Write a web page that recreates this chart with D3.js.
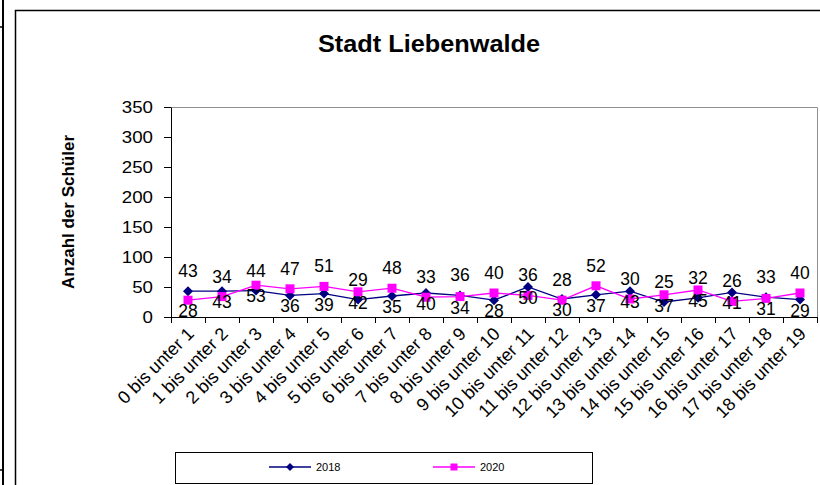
<!DOCTYPE html>
<html>
<head>
<meta charset="utf-8">
<script src="https://cdn.jsdelivr.net/npm/d3@7"></script>
<style>
  body { margin: 0; background: #fff; }
  svg { display: block; font-family: Arial, "Liberation Sans", sans-serif; }
</style>
</head>
<body>
<div id="container"></div>
<script>
//---------- DATA ----------//
const categories = [
    "0 bis unter 1", "1 bis unter 2", "2 bis unter 3", "3 bis unter 4", "4 bis unter 5",
    "5 bis unter 6", "6 bis unter 7", "7 bis unter 8", "8 bis unter 9", "9 bis unter 10",
    "10 bis unter 11", "11 bis unter 12", "12 bis unter 13", "13 bis unter 14", "14 bis unter 15",
    "15 bis unter 16", "16 bis unter 17", "17 bis unter 18", "18 bis unter 19"
];
const values2018 = [43, 43, 44, 36, 39, 29, 35, 40, 36, 28, 50, 30, 37, 43, 25, 32, 41, 33, 29];
const values2020 = [28, 34, 53, 47, 51, 42, 48, 33, 34, 40, 36, 28, 52, 30, 37, 45, 26, 31, 40];
// data labels as they appear in the chart (one row above the points, one below)
const labelsTop    = [43, 34, 44, 47, 51, 29, 48, 33, 36, 40, 36, 28, 52, 30, 25, 32, 26, 33, 40];
const labelsBottom = [28, 43, 53, 36, 39, 42, 35, 40, 34, 28, 50, 30, 37, 43, 37, 45, 41, 31, 29];
const yTicks = [0, 50, 100, 150, 200, 250, 300, 350];
const seriesNames = ["2018", "2020"];

//---------- SVG ----------//
const width = 820;
const height = 485;
const plotLeft = 171, plotRight = 817, plotTop = 107, plotBottom = 317;

const svg = d3.select("div#container")
    .append("svg")
    .attr("width", width)
    .attr("height", height);

// sheet border and chart frame
svg.append("line").attr("x1", 3).attr("x2", 3).attr("y1", 0).attr("y2", height)
    .attr("stroke", "#000").attr("stroke-width", 2);
svg.append("line").attr("x1", 0).attr("x2", 3).attr("y1", 27).attr("y2", 27)
    .attr("stroke", "#000").attr("stroke-width", 1.5);
svg.append("line").attr("x1", 0).attr("x2", 3).attr("y1", 470).attr("y2", 470)
    .attr("stroke", "#000").attr("stroke-width", 1.5);
svg.append("rect")
    .attr("x", 15.5).attr("y", 10.5)
    .attr("width", 830).attr("height", 500)
    .attr("fill", "none").attr("stroke", "#000").attr("stroke-width", 1.5);

//---------- SCALES ----------//
const xScale = d3.scaleBand().domain(categories).range([plotLeft, plotRight]);
const xEdges = d3.scaleLinear().domain([0, categories.length]).range([plotLeft, plotRight]);
const yScale = d3.scaleLinear().domain([0, 350]).range([plotBottom, plotTop]);
const cx = (d, i) => xScale(categories[i]) + xScale.bandwidth() / 2;

// plot area border (top / right)
svg.append("path")
    .attr("d", `M${plotLeft},${plotTop + 0.5}H${plotRight + 0.5}V${plotBottom}`)
    .attr("fill", "none").attr("stroke", "#909090").attr("stroke-width", 1);

//---------- TITLE ----------//
svg.append("text")
    .attr("x", 429).attr("y", 52)
    .attr("text-anchor", "middle")
    .attr("font-weight", "bold")
    .attr("font-size", 23.5)
    .attr("textLength", 222)
    .attr("lengthAdjust", "spacingAndGlyphs")
    .text("Stadt Liebenwalde");

svg.append("text")
    .attr("transform", `translate(74,${(plotTop + plotBottom) / 2}) rotate(-90)`)
    .attr("text-anchor", "middle")
    .attr("font-weight", "bold")
    .attr("font-size", 17)
    .text("Anzahl der Schüler");

//---------- AXES ----------//
const yAxis = svg.append("g")
    .attr("transform", `translate(${plotLeft},0)`)
    .call(d3.axisLeft(yScale).tickValues(yTicks).tickSize(7).tickSizeOuter(0).tickPadding(11));
yAxis.selectAll("text").attr("font-size", 17).attr("fill", "#000")
    .style("font-family", "Arial, 'Liberation Sans', sans-serif")
    .each(function () {
        this.setAttribute("textLength", this.getComputedTextLength() * 1.1);
        this.setAttribute("lengthAdjust", "spacingAndGlyphs");
    });
yAxis.selectAll("line, path").attr("stroke", "#000");

const xTicks = svg.append("g")
    .attr("transform", `translate(0,${plotBottom})`)
    .call(d3.axisBottom(xEdges).ticks(categories.length).tickFormat("").tickSize(6).tickSizeOuter(0));
xTicks.selectAll("line, path").attr("stroke", "#000");

svg.append("g")
    .selectAll("text")
    .data(categories)
    .join("text")
    .attr("transform", (d, i) => `translate(${cx(d, i) + 7},${plotBottom + 18}) rotate(-45)`)
    .attr("text-anchor", "end")
    .attr("font-size", 18)
    .text(d => d);

//---------- LINES ----------//
const line = d3.line().x(cx).y(d => yScale(d));

svg.append("path").datum(values2018)
    .attr("d", line).attr("fill", "none")
    .attr("stroke", "#000080").attr("stroke-width", 1.3);
svg.append("g").selectAll("path")
    .data(values2018)
    .join("path")
    .attr("transform", (d, i) => `translate(${cx(d, i)},${yScale(d)})`)
    .attr("d", "M0,-5L5,0L0,5L-5,0Z")
    .attr("fill", "#000080");

svg.append("path").datum(values2020)
    .attr("d", line).attr("fill", "none")
    .attr("stroke", "#ff00ff").attr("stroke-width", 1.3);
svg.append("g").selectAll("rect")
    .data(values2020)
    .join("rect")
    .attr("x", (d, i) => cx(d, i) - 4.5)
    .attr("y", d => yScale(d) - 4.5)
    .attr("width", 9).attr("height", 9)
    .attr("fill", "#ff00ff");

//---------- DATA LABELS ----------//
// each label sits above or below the point that carries its value
function pointY(v, i, fallback) {
    if (v === values2018[i]) return yScale(values2018[i]);
    if (v === values2020[i]) return yScale(values2020[i]);
    return fallback(yScale(values2018[i]), yScale(values2020[i]));
}

svg.append("g").selectAll("text")
    .data(labelsTop)
    .join("text")
    .attr("x", (d, i) => cx(d, i))
    .attr("y", (d, i) => pointY(d, i, Math.min) - 14)
    .attr("text-anchor", "middle")
    .attr("font-size", 17.5)
    .text(d => d);

svg.append("g").selectAll("text")
    .data(labelsBottom)
    .join("text")
    .attr("x", (d, i) => cx(d, i))
    .attr("y", (d, i) => pointY(d, i, Math.max) + 17)
    .attr("text-anchor", "middle")
    .attr("font-size", 17.5)
    .text(d => d);

//---------- LEGEND ----------//
svg.append("rect")
    .attr("x", 175.5).attr("y", 452.5)
    .attr("width", 417).attr("height", 31)
    .attr("fill", "#fff").attr("stroke", "#000").attr("stroke-width", 1);

const legendX = [269, 433];
const legendColors = ["#000080", "#ff00ff"];
const legend = svg.append("g").selectAll("g")
    .data(seriesNames)
    .join("g")
    .attr("transform", (d, i) => `translate(${legendX[i]},467)`);
legend.append("line")
    .attr("x1", 0).attr("x2", 42)
    .attr("stroke", (d, i) => legendColors[i]).attr("stroke-width", 1.3);
legend.append("path")
    .attr("d", (d, i) => i === 0 ? "M21,-4L25,0L21,4L17,0Z" : "M17.5,-3.5h7v7h-7Z")
    .attr("fill", (d, i) => legendColors[i]);
legend.append("text")
    .attr("x", 47).attr("y", 4)
    .attr("font-size", 11)
    .text(d => d);
</script>
</body>
</html>
